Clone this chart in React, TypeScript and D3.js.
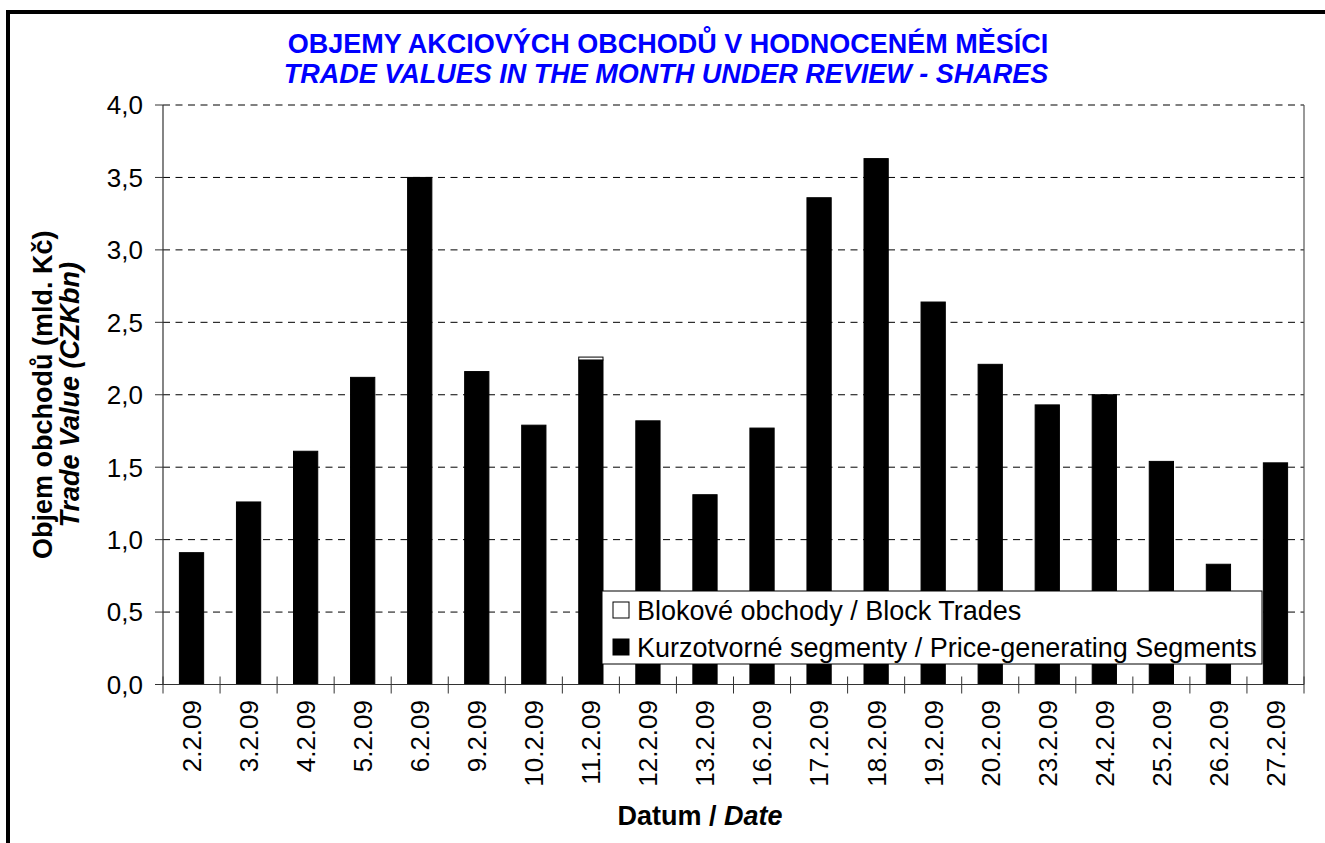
import React from 'react'
import * as d3 from 'd3'

const dates = [
  '2.2.09', '3.2.09', '4.2.09', '5.2.09', '6.2.09', '9.2.09', '10.2.09', '11.2.09', '12.2.09', '13.2.09',
  '16.2.09', '17.2.09', '18.2.09', '19.2.09', '20.2.09', '23.2.09', '24.2.09', '25.2.09', '26.2.09', '27.2.09',
]
// Kurzotvorné segmenty / Price-generating Segments (CZK bn)
const priceGenerating = [0.91, 1.26, 1.61, 2.12, 3.5, 2.16, 1.79, 2.24, 1.82, 1.31, 1.77, 3.36, 3.63, 2.64, 2.21, 1.93, 2.0, 1.54, 0.83, 1.53]
// Blokové obchody / Block Trades (CZK bn)
const blockTrades = [0, 0, 0, 0, 0, 0, 0, 0.02, 0, 0, 0, 0, 0, 0, 0, 0, 0, 0, 0, 0]
const yTicks = [0, 0.5, 1, 1.5, 2, 2.5, 3, 3.5, 4]

const seriesKeys = ['price', 'block']
const seriesLabels = ['Kurzotvorné segmenty / Price-generating Segments', 'Blokové obchody / Block Trades']
const seriesFill = ['#000000', '#ffffff']

const W = 1325
const H = 843
const FONT = "Arial, 'Liberation Sans', Helvetica, sans-serif"

export default function App() {
  const left = 163
  const right = 1304
  const top = 105
  const bottom = 684.5
  const pad = 0.575

  const rows = dates.map((d, i) => ({ date: d, price: priceGenerating[i], block: blockTrades[i] }))
  const stacked = d3.stack<any>().keys(seriesKeys)(rows)

  const x = d3.scaleBand<string>().domain(dates).range([left, right]).paddingInner(pad).paddingOuter(pad / 2)
  const y = d3.scaleLinear().domain([0, 4]).range([bottom, top])
  const step = x.step()
  const fmt = (v: number) => v.toFixed(1).replace('.', ',')
  const boundaries = dates.map(d => (x(d) as number) - (step * pad) / 2).concat([right])

  return (
    <svg width={W} height={H} style={{ position: 'absolute', left: 0, top: 0, background: '#fff' }} fontFamily={FONT}>
      {/* outer frame */}
      <rect x={8} y={12} width={W + 20} height={H + 20} fill="none" stroke="#000" strokeWidth={4} />

      {/* title */}
      <text x={668} y={53} textAnchor="middle" fill="#0000ff" fontWeight="bold" fontSize={27}>
        OBJEMY AKCIOVÝCH OBCHODŮ V HODNOCENÉM MĚSÍCI
      </text>
      <text x={666} y={83} textAnchor="middle" fill="#0000ff" fontWeight="bold" fontStyle="italic" fontSize={27}>
        TRADE VALUES IN THE MONTH UNDER REVIEW - SHARES
      </text>

      {/* gridlines */}
      {yTicks.filter(t => t > 0).map(t => (
        <line key={t} x1={left} x2={right} y1={y(t)} y2={y(t)} stroke="#000" strokeWidth={1} strokeDasharray="7,5.5" />
      ))}

      {/* bars */}
      {stacked.map((s, si) => (
        <g key={s.key}>
          {s.map((d, i) => {
            const h = y(d[0]) - y(d[1])
            if (h <= 0) return null
            return (
              <rect key={i} x={x(dates[i])} y={y(d[1])} width={x.bandwidth()} height={h}
                fill={seriesFill[si]} stroke="#000" strokeWidth={1} />
            )
          })}
        </g>
      ))}

      {/* axes */}
      <line x1={left} x2={left} y1={top} y2={bottom} stroke="#333" strokeWidth={1.2} />
      <line x1={right} x2={right} y1={top} y2={bottom} stroke="#555" strokeWidth={1.2} />
      <line x1={left} x2={right} y1={bottom} y2={bottom} stroke="#333" strokeWidth={1.2} />
      {yTicks.map(t => (
        <g key={t}>
          <line x1={left - 8} x2={left} y1={y(t)} y2={y(t)} stroke="#333" />
          <text x={143} y={y(t)} dy="0.36em" textAnchor="end" fontSize={26} fill="#000">{fmt(t)}</text>
        </g>
      ))}
      {boundaries.map((b, i) => (
        <line key={i} x1={b} x2={b} y1={bottom - 8} y2={bottom + 9} stroke="#333" />
      ))}
      {dates.map(d => {
        const cx = (x(d) as number) + x.bandwidth() / 2
        return (
          <text key={d} transform={`translate(${cx},700) rotate(-90)`} dy="0.36em" textAnchor="end" fontSize={26} fill="#000">
            {d}
          </text>
        )
      })}

      {/* axis titles */}
      <text x={700} y={825} textAnchor="middle" fontSize={27} fontWeight="bold">
        Datum / <tspan fontStyle="italic">Date</tspan>
      </text>
      <g transform={`translate(0,${(top + bottom) / 2}) rotate(-90)`}>
        <text x={0} y={52} textAnchor="middle" fontSize={27} fontWeight="bold">Objem obchodů (mld. Kč)</text>
        <text x={0} y={79} textAnchor="middle" fontSize={27} fontWeight="bold" fontStyle="italic">Trade Value (CZKbn)</text>
      </g>

      {/* legend */}
      <g transform="translate(602,591)">
        <rect x={0} y={0} width={660} height={73} fill="#fff" stroke="#000" strokeWidth={1} />
        {[1, 0].map((si, row) => (
          <g key={si} transform={`translate(0,${19 + row * 37})`}>
            <rect x={11} y={-8} width={16} height={16} fill={seriesFill[si]} stroke="#000" strokeWidth={1} />
            <text x={35} y={0} dy="0.36em" fontSize={27} fill="#000">{seriesLabels[si]}</text>
          </g>
        ))}
      </g>
    </svg>
  )
}
